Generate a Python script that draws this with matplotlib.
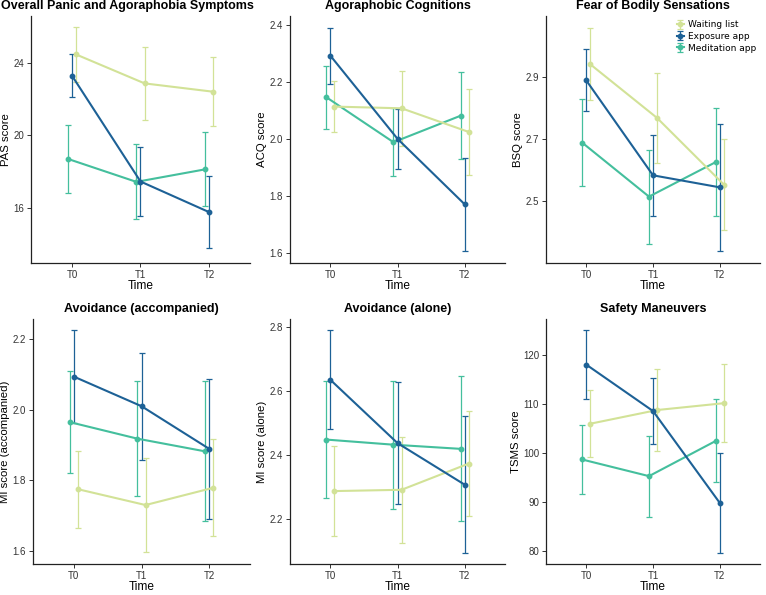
import numpy as np
import matplotlib
matplotlib.use("Agg")
import matplotlib.pyplot as plt
from matplotlib.ticker import FormatStrFormatter

plt.rcParams["font.family"] = ["Liberation Sans", "DejaVu Sans"]

times = ["T0", "T1", "T2"]
groups = ["Waiting list", "Exposure app", "Meditation app"]
colors = {"Waiting list": "#d2e297", "Exposure app": "#1d6196", "Meditation app": "#44bf9d"}
offsets = {"Waiting list": 0.06, "Exposure app": 0.0, "Meditation app": -0.06}

titles = ["Overall Panic and Agoraphobia Symptoms", "Agoraphobic Cognitions", "Fear of Bodily Sensations",
          "Avoidance (accompanied)", "Avoidance (alone)", "Safety Maneuvers"]
ylabels = ["PAS score", "ACQ score", "BSQ score",
           "MI score (accompanied)", "MI score (alone)", "TSMS score"]

# means and error-bar half widths per panel, per group (T0, T1, T2)
pas_mean = {"Waiting list": [24.47, 22.87, 22.41], "Exposure app": [23.29, 17.44, 15.75],
            "Meditation app": [18.69, 17.42, 18.11]}
pas_err = {"Waiting list": [1.5, 2.0, 1.9], "Exposure app": [1.19, 1.9, 2.0],
           "Meditation app": [1.88, 2.07, 2.05]}

acq_mean = {"Waiting list": [2.113, 2.107, 2.024], "Exposure app": [2.292, 2.0, 1.770],
            "Meditation app": [2.146, 1.988, 2.081]}
acq_err = {"Waiting list": [0.09, 0.131, 0.15], "Exposure app": [0.098, 0.105, 0.164],
           "Meditation app": [0.11, 0.12, 0.153]}

bsq_mean = {"Waiting list": [2.943, 2.769, 2.553], "Exposure app": [2.891, 2.583, 2.544],
            "Meditation app": [2.689, 2.514, 2.626]}
bsq_err = {"Waiting list": [0.117, 0.145, 0.147], "Exposure app": [0.101, 0.131, 0.206],
           "Meditation app": [0.14, 0.152, 0.176]}

mia_mean = {"Waiting list": [1.775, 1.730, 1.779], "Exposure app": [2.094, 2.010, 1.889],
            "Meditation app": [1.965, 1.918, 1.882]}
mia_err = {"Waiting list": [0.109, 0.133, 0.137], "Exposure app": [0.133, 0.152, 0.198],
           "Meditation app": [0.144, 0.162, 0.198]}

mial_mean = {"Waiting list": [2.286, 2.290, 2.372], "Exposure app": [2.634, 2.436, 2.306],
             "Meditation app": [2.447, 2.431, 2.418]}
mial_err = {"Waiting list": [0.14, 0.166, 0.164], "Exposure app": [0.155, 0.19, 0.214],
            "Meditation app": [0.183, 0.2, 0.227]}

tsms_mean = {"Waiting list": [105.9, 108.7, 110.1], "Exposure app": [118.0, 108.5, 89.7],
             "Meditation app": [98.6, 95.2, 102.4]}
tsms_err = {"Waiting list": [6.8, 8.4, 8.0], "Exposure app": [7.0, 6.7, 10.2],
            "Meditation app": [7.0, 8.3, 8.5]}

panels = [(pas_mean, pas_err), (acq_mean, acq_err), (bsq_mean, bsq_err),
          (mia_mean, mia_err), (mial_mean, mial_err), (tsms_mean, tsms_err)]
yticks = [[16, 20, 24], [1.6, 1.8, 2.0, 2.2, 2.4], [2.5, 2.7, 2.9],
          [1.6, 1.8, 2.0, 2.2], [2.2, 2.4, 2.6, 2.8], [80, 90, 100, 110, 120]]
ylims = [(12.93, 26.6), (1.564, 2.431), (2.299, 3.099),
         (1.563, 2.257), (2.058, 2.824), (77.25, 127.3)]

W, H = 766, 595
fig = plt.figure(figsize=(W / 100, H / 100), dpi=100)
# axes boxes in pixels: left, top, right, bottom
boxes = [(31, 16, 250, 263), (290, 16, 505, 263), (546, 16, 760, 263),
         (33, 319, 250, 564), (290, 319, 505, 564), (546, 319, 760, 564)]

x = np.arange(1, len(times) + 1)
for i, ((means, errs), (l, t, r, b)) in enumerate(zip(panels, boxes)):
    ax = fig.add_axes([l / W, 1 - b / H, (r - l) / W, (b - t) / H])
    for g in ["Meditation app", "Waiting list", "Exposure app"]:
        xs = x + offsets[g]
        ax.errorbar(xs, means[g], yerr=errs[g], color=colors[g], lw=1.5, marker="o", ms=3.2,
                    capsize=2.2, elinewidth=0.9, capthick=0.9, label=g)
    ax.set_xlim(0.4, 3.6)
    ax.set_ylim(*ylims[i])
    ax.set_xticks(x)
    ax.set_xticklabels(times)
    ax.set_yticks(yticks[i])
    fmt = "%d" if i in (0, 5) else "%.1f"
    ax.yaxis.set_major_formatter(FormatStrFormatter(fmt))
    ax.tick_params(labelsize=7, length=3, width=0.7, color="#333333", labelcolor="#333333", pad=2)
    for s in ["top", "right"]:
        ax.spines[s].set_visible(False)
    for s in ["left", "bottom"]:
        ax.spines[s].set_linewidth(0.9)
        ax.spines[s].set_color("#222222")
    title_x = 0.44 if i == 0 else 0.5
    ax.set_title(titles[i], fontsize=9, fontweight="bold", pad=5, x=title_x)
    ax.set_ylabel(ylabels[i], fontsize=8.2, labelpad=1.5)
    ax.set_xlabel("Time", fontsize=8.6, labelpad=0)
    if i == 2:
        handles, labels = ax.get_legend_handles_labels()
        order = [labels.index(g) for g in groups]
        ax.legend([handles[k] for k in order], [labels[k] for k in order], loc="upper right",
                  bbox_to_anchor=(1.01, 1.005), frameon=False, prop={"family": "DejaVu Sans", "size": 6.5},
                  handlelength=0.8, handletextpad=0.5, labelspacing=0.3, borderaxespad=0.2)

fig.savefig("out.png", dpi=100)
